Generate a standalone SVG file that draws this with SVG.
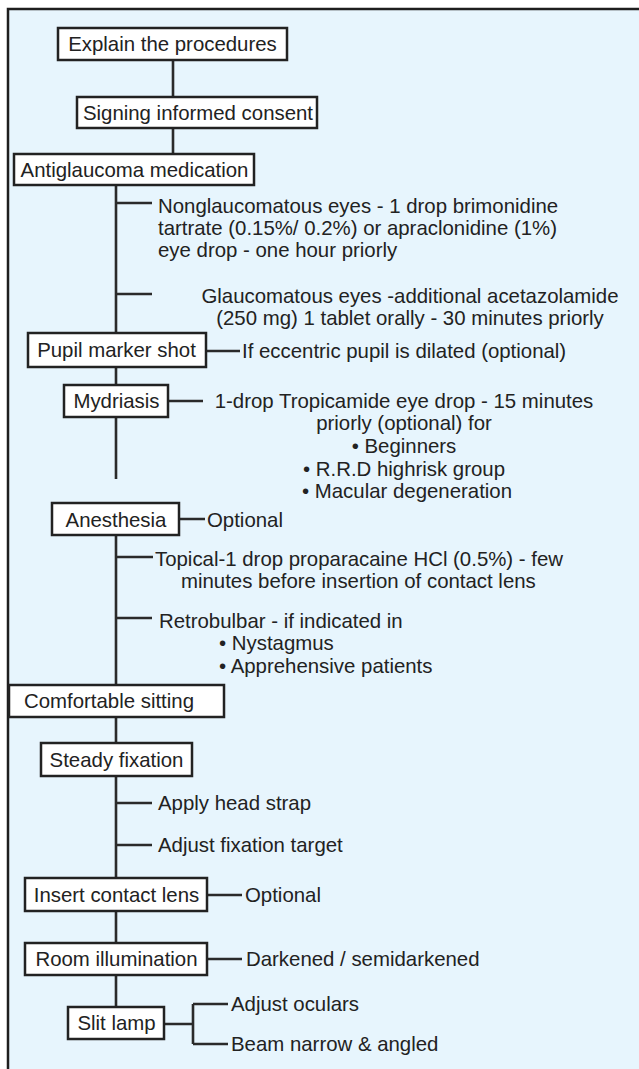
<svg xmlns="http://www.w3.org/2000/svg" width="639" height="1069" viewBox="0 0 639 1069">
<style>
.bg{fill:#e7f5fd}
.frame{fill:none;stroke:#1e1e1e;stroke-width:2.5}
.box{fill:#ffffff;stroke:#222222;stroke-width:2.5}
.ln{fill:none;stroke:#2a2a2a;stroke-width:2.6}
.t{font-family:"Liberation Sans",Arial,sans-serif;font-size:20.4px;fill:#222222}
.c{text-anchor:middle}
</style>
<rect x="0" y="0" width="639" height="1069" fill="#ffffff"/>
<rect class="bg" x="8" y="9" width="631" height="1060"/>
<path class="frame" d="M8 1069 V9 H639"/>

<g id="connectors">
<path class="ln" d="M173 60 V97 M173 128 V154 M116 185 V333 M116 203 H152 M116 294 H152 M206 351 H240 M116 367 V385 M168 401 H203 M116 417 V479 M179 519 H205 M116 535 V685 M116 557 H153 M116 618 H152 M116 717 V743 M116 776 V878 M116 803 H152 M116 845 H152 M207 895 H242 M116 911 V943 M207 959 H242 M116 975 V1007 M164 1024 H193 M193 1004 V1044 M193 1004 H228 M193 1044 H228"/>
</g>

<g id="explain"><rect class="box" x="58" y="28" width="229" height="32"/><text class="t c" x="172.5" y="51">Explain the procedures</text></g>
<g id="signing"><rect class="box" x="77" y="97" width="240" height="31"/><text class="t c" x="198" y="120">Signing informed consent</text></g>
<g id="antiglaucoma"><rect class="box" x="14" y="154" width="240" height="31"/><text class="t c" x="134.5" y="177">Antiglaucoma medication</text></g>
<g id="nonglaucomatous"><text class="t" x="158" y="213">Nonglaucomatous eyes - 1 drop brimonidine</text><text class="t" x="158" y="235">tartrate (0.15%/ 0.2%) or apraclonidine (1%)</text><text class="t" x="158" y="257">eye drop - one hour priorly</text></g>
<g id="glaucomatous"><text class="t c" x="410" y="303">Glaucomatous eyes -additional acetazolamide</text><text class="t c" x="410" y="325">(250 mg) 1 tablet orally - 30 minutes priorly</text></g>
<g id="pupil"><rect class="box" x="28" y="333" width="178" height="34"/><text class="t c" x="116.5" y="357">Pupil marker shot</text></g>
<g id="pupil-note"><text class="t" x="242" y="358">If eccentric pupil is dilated (optional)</text></g>
<g id="mydriasis"><rect class="box" x="64" y="385" width="104" height="32"/><text class="t c" x="116.5" y="408">Mydriasis</text></g>
<g id="mydriasis-note"><text class="t c" x="404" y="408">1-drop Tropicamide eye drop - 15 minutes</text><text class="t c" x="404" y="430">priorly (optional) for</text><text class="t c" x="404" y="453">• Beginners</text><text class="t c" x="404" y="476">• R.R.D highrisk group</text><text class="t c" x="407" y="498">• Macular degeneration</text></g>
<g id="anesthesia"><rect class="box" x="52" y="503" width="127" height="32"/><text class="t c" x="116" y="527">Anesthesia</text></g>
<g id="anesthesia-note"><text class="t" x="207" y="527">Optional</text></g>
<g id="topical"><text class="t" x="155" y="566">Topical-1 drop proparacaine HCl (0.5%) - few</text><text class="t" x="181" y="588">minutes before insertion of contact lens</text></g>
<g id="retrobulbar"><text class="t" x="159" y="628">Retrobulbar - if indicated in</text><text class="t" x="219" y="650">• Nystagmus</text><text class="t" x="219" y="673">• Apprehensive patients</text></g>
<g id="comfortable"><rect class="box" x="9" y="685" width="215" height="32"/><text class="t c" x="109" y="708">Comfortable sitting</text></g>
<g id="steady"><rect class="box" x="41" y="743" width="151" height="33"/><text class="t c" x="116.5" y="767">Steady fixation</text></g>
<g id="head-strap"><text class="t" x="158" y="810">Apply head strap</text></g>
<g id="fixation-target"><text class="t" x="158" y="852">Adjust fixation target</text></g>
<g id="insert"><rect class="box" x="25" y="878" width="182" height="33"/><text class="t c" x="116.5" y="902">Insert contact lens</text></g>
<g id="insert-note"><text class="t" x="245" y="902">Optional</text></g>
<g id="room"><rect class="box" x="25" y="943" width="182" height="32"/><text class="t c" x="116.5" y="966">Room illumination</text></g>
<g id="room-note"><text class="t" x="246" y="966">Darkened / semidarkened</text></g>
<g id="slit"><rect class="box" x="68" y="1007" width="96" height="32"/><text class="t c" x="116.5" y="1030">Slit lamp</text></g>
<g id="oculars"><text class="t" x="231" y="1011">Adjust oculars</text></g>
<g id="beam"><text class="t" x="231" y="1051">Beam narrow &amp; angled</text></g>
</svg>
